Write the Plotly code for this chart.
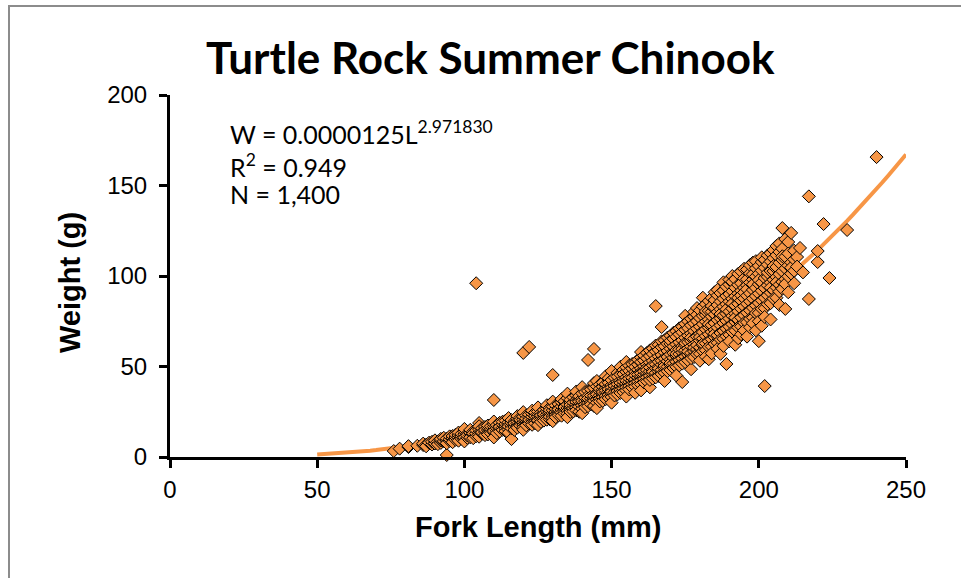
import plotly.graph_objects as go

# ---------------- data ----------------
fork_length_mm = [
    76, 78, 81, 84, 86, 87, 88, 89, 90, 91, 92, 93, 94, 95, 96, 97, 98, 99,
    100, 101, 102, 103, 104, 105, 106, 107, 108, 109, 110, 111, 112, 113, 114,
    115, 116, 117, 118, 119, 120, 121, 122, 123, 124, 125, 126, 127, 128, 129,
    130, 131, 132, 133, 134, 135, 136, 137, 138, 139, 140, 141, 142, 143, 144,
    145, 146, 147, 148, 149, 150, 151, 152, 153, 154, 155, 156, 157, 158, 159,
    160, 161, 162, 163, 164, 165, 166, 167, 168, 169, 170, 171, 172, 173, 174,
    175, 176, 177, 178, 179, 180, 181, 182, 183, 184, 185, 186, 187, 188, 189,
    190, 191, 192, 193, 194, 195, 196, 197, 198, 199, 200, 201, 202, 203, 204,
    205, 206, 207, 208, 209, 210, 211, 212, 213, 214, 215, 217, 220, 222, 224,
    230, 240,
]

weights_at_length_g = [
    [3.3], [4.6], [5.5, 6.0], [6.2], [6.6, 7.4], [6.8, 5.9], [7.9], [6.9, 8.4],
    [8.3, 7.5, 9.2], [8.6, 7.1], [7.8, 9.1, 10.0], [8.8, 10.6],
    [1.1, 9.4, 10.2, 7.6], [8.9, 9.8, 11.4], [10.4, 11.6, 8.2],
    [9.5, 11.0, 12.3], [10.9, 12.2, 9.0, 13.5], [10.1, 11.5, 12.8],
    [11.3, 12.6, 9.8, 14.2, 10.7, 15.5, 8.6], [10.6, 12.9, 11.9],
    [11.8, 13.4, 10.9, 15.0], [12.2, 14.1, 13.0, 10.4],
    [11.5, 13.0, 96.0, 14.8], [13.6, 12.4, 18.8, 15.4, 11.2, 17.0],
    [12.9, 14.4, 15.9, 13.7], [13.8, 12.1, 16.6, 14.9],
    [14.9, 13.3, 16.2, 12.5, 17.4], [14.2, 15.5, 17.0, 13.1],
    [15.1, 13.6, 31.5, 16.8, 18.2, 14.4, 10.8, 19.6],
    [14.5, 16.0, 17.6, 13.2], [15.7, 17.3, 14.1, 18.9, 16.6],
    [16.2, 15.0, 18.0, 19.5], [17.0, 15.6, 18.3, 14.3, 20.1],
    [16.4, 17.8, 19.2, 15.2, 16.9, 21.5, 13.4],
    [9.9, 17.2, 15.8, 18.9, 20.4], [17.9, 16.5, 19.6, 15.0, 18.6],
    [18.4, 17.0, 19.7, 21.3, 16.2, 22.6], [18.1, 19.9, 17.3, 21.8, 20.6],
    [19.2, 17.6, 20.8, 57.5, 22.4, 16.4, 24.8, 15.0],
    [18.8, 20.1, 22.9, 17.5, 21.2], [19.9, 18.5, 21.6, 60.8, 23.5, 20.5],
    [20.4, 19.1, 22.2, 24.0, 17.8, 25.6], [21.2, 19.8, 22.7, 18.6, 24.6],
    [21.0, 22.5, 19.6, 23.9, 25.2, 20.3, 27.4, 17.6],
    [22.1, 20.7, 24.5, 23.1, 19.4], [22.8, 21.3, 24.2, 26.0, 20.1, 23.6],
    [23.4, 21.9, 25.4, 26.8, 20.6, 28.6],
    [23.0, 24.8, 20.8, 27.2, 22.2, 25.9],
    [24.3, 22.6, 45.3, 25.9, 27.9, 21.4, 30.6, 19.8],
    [24.9, 23.2, 26.6, 28.5, 22.0], [25.6, 24.0, 27.1, 29.3, 23.0, 26.3],
    [26.0, 24.5, 28.0, 30.2, 22.8, 32.0], [26.5, 25.1, 28.2, 30.8, 24.0, 27.6],
    [27.1, 25.4, 29.0, 32.5, 23.9, 35.0, 22.0],
    [27.6, 26.0, 29.8, 31.6, 24.9, 28.7], [28.4, 26.7, 30.1, 33.0, 25.2],
    [29.0, 27.3, 34.0, 31.5, 25.8, 30.4, 36.2],
    [29.5, 27.9, 31.2, 25.0, 33.6, 30.6],
    [30.1, 28.4, 32.4, 35.2, 26.6, 31.0, 38.6, 24.2],
    [30.9, 29.0, 32.8, 35.9, 27.5],
    [31.4, 29.8, 53.6, 36.5, 33.7, 28.1, 32.3], [32.2, 30.3, 34.0, 37.4, 29.1],
    [32.6, 31.0, 59.7, 28.2, 35.1, 38.2, 33.8, 40.8],
    [33.5, 31.6, 35.4, 39.0, 30.0, 34.6, 42.0, 27.0],
    [34.1, 32.2, 36.2, 40.0, 30.7, 37.6],
    [35.0, 33.0, 37.1, 31.0, 38.8, 41.2, 35.9],
    [35.6, 33.7, 38.0, 40.3, 32.0, 36.7, 44.6],
    [36.3, 34.3, 38.9, 43.5, 32.6, 37.5, 41.0],
    [37.0, 35.0, 39.8, 33.2, 42.5, 38.4, 36.1, 47.5, 30.0],
    [37.8, 35.7, 40.5, 43.9, 34.0, 39.3],
    [38.5, 36.4, 41.6, 34.6, 46.5, 40.2, 44.4],
    [39.2, 37.1, 42.3, 45.5, 35.4, 40.9, 49.8],
    [40.0, 37.8, 43.2, 35.9, 48.0, 41.7, 45.8],
    [40.6, 38.5, 44.0, 42.1, 47.1, 36.7, 49.6, 52.5, 33.4],
    [41.5, 39.2, 45.0, 37.3, 50.5, 43.4, 47.6],
    [42.3, 40.0, 46.1, 43.8, 48.9, 38.3, 51.4],
    [43.0, 40.6, 47.0, 38.9, 52.0, 35.5, 45.2, 49.8],
    [44.0, 41.5, 48.2, 45.6, 51.0, 39.6, 53.7],
    [44.8, 42.2, 49.0, 40.1, 55.0, 47.0, 52.5, 46.2, 58.0, 36.8],
    [45.6, 43.1, 50.2, 47.4, 53.4, 41.2, 56.1],
    [46.5, 44.0, 51.0, 41.8, 57.5, 49.3, 54.6, 48.0],
    [47.4, 44.8, 52.3, 49.5, 38.5, 55.8, 42.6, 58.9],
    [48.2, 45.6, 53.1, 43.3, 60.0, 50.7, 56.9, 47.1],
    [49.1, 46.5, 54.5, 51.2, 83.4, 58.3, 44.0, 61.6],
    [50.0, 47.3, 55.6, 44.8, 62.0, 52.6, 59.2, 48.9],
    [51.0, 48.2, 56.4, 53.2, 71.8, 60.7, 45.8, 63.9],
    [51.8, 49.0, 57.8, 46.5, 64.5, 42.0, 54.4, 61.2, 50.3],
    [52.9, 49.9, 58.6, 55.3, 62.6, 47.4, 66.0],
    [53.8, 50.8, 59.9, 48.1, 62.5, 67.0, 56.7, 64.2, 51.9],
    [54.9, 51.7, 61.0, 57.4, 65.3, 49.2, 68.6],
    [55.8, 52.6, 62.2, 49.8, 69.5, 45.0, 59.1, 66.4, 57.0],
    [56.9, 53.6, 63.4, 59.5, 67.8, 50.6, 71.1],
    [57.8, 54.5, 64.5, 51.6, 41.4, 72.0, 61.3, 68.9, 59.6],
    [59.0, 55.5, 65.9, 61.8, 78.0, 70.3, 52.4, 73.6, 63.0],
    [60.0, 56.4, 67.0, 53.3, 75.0, 63.5, 71.2, 58.2],
    [61.1, 57.5, 68.2, 64.1, 48.5, 72.8, 54.6, 76.4, 66.0],
    [62.2, 58.5, 69.6, 55.2, 77.5, 65.4, 73.9, 60.3, 80.2],
    [63.3, 59.6, 70.9, 66.5, 82.3, 75.1, 56.8, 78.6, 61.8],
    [64.4, 60.6, 72.0, 57.0, 68.0, 76.8, 81.0, 53.2, 66.3],
    [65.5, 61.7, 73.4, 69.0, 88.0, 78.0, 58.5, 83.1, 62.6],
    [66.8, 62.8, 74.8, 59.0, 78.5, 70.6, 84.5, 55.4, 80.6],
    [67.8, 63.9, 76.0, 71.5, 54.0, 80.7, 86.2, 60.8, 73.4],
    [69.1, 65.0, 77.6, 61.0, 80.3, 72.9, 87.9, 57.3, 83.4],
    [70.2, 66.2, 78.8, 74.0, 91.0, 82.5, 62.5, 86.7, 68.1],
    [71.5, 67.3, 80.2, 63.1, 84.0, 75.7, 89.3, 59.8, 92.4],
    [72.7, 68.5, 81.6, 76.6, 57.0, 85.9, 64.9, 90.6, 79.0],
    [74.0, 69.7, 83.1, 65.3, 87.5, 96.5, 78.3, 61.4, 92.0],
    [75.2, 70.9, 84.4, 79.2, 51.4, 88.9, 66.7, 94.1, 81.6],
    [76.5, 72.0, 85.9, 67.5, 90.0, 80.4, 95.3, 63.9, 98.0],
    [77.9, 73.3, 87.4, 82.0, 100.0, 91.6, 69.2, 96.8, 84.8],
    [79.2, 74.6, 88.8, 69.8, 93.5, 62.0, 83.6, 98.3, 77.0],
    [80.5, 75.8, 90.3, 84.7, 95.1, 71.6, 101.2, 65.6, 87.9],
    [81.9, 77.1, 91.8, 72.2, 96.0, 86.4, 102.5, 67.8, 89.3],
    [83.2, 78.4, 93.4, 87.6, 98.7, 74.1, 104.0, 69.9, 90.9],
    [84.6, 79.7, 94.9, 74.5, 98.2, 66.5, 89.1, 103.6, 92.7],
    [86.0, 81.0, 96.4, 90.5, 101.5, 76.3, 106.0, 71.7],
    [87.5, 82.4, 98.0, 77.0, 101.0, 92.3, 107.4, 73.9, 95.4],
    [88.9, 83.7, 99.7, 93.4, 70.0, 104.3, 79.5, 108.2],
    [90.3, 85.1, 101.3, 79.6, 95.5, 105.6, 75.0, 64.0, 97.8],
    [91.8, 86.5, 103.0, 96.4, 72.5, 107.7, 81.9, 110.3],
    [93.3, 87.9, 104.6, 82.2, 39.2, 98.9, 109.0, 77.4],
    [94.8, 89.3, 106.3, 99.6, 111.4, 84.4, 101.9],
    [96.3, 90.8, 108.0, 85.0, 76.0, 102.8, 112.6, 93.6],
    [97.9, 92.2, 109.8, 102.7, 114.4, 87.5, 105.5],
    [99.4, 93.7, 111.5, 116.6, 88.0, 105.0, 96.6],
    [101.0, 95.2, 113.3, 84.0, 107.3, 118.0, 91.4],
    [102.6, 96.7, 115.1, 126.5, 108.9, 93.0, 110.9],
    [104.2, 98.2, 120.4, 81.8, 110.7, 95.6],
    [105.8, 99.8, 118.8, 112.4, 91.0],
    [107.5, 101.3, 123.8, 104.6],
    [109.2, 102.9, 96.0, 114.0],
    [110.5, 105.2], [115.5], [102.0], [144.0, 87.3],
    [107.7, 113.8], [128.7], [98.9],
    [125.4], [165.7],
]

# power trendline shown on the chart: W = a * L^b
trend_a = 0.0000125
trend_b = 2.971830
trend_length_mm = list(range(50, 251, 2))

title_text = "Turtle Rock Summer Chinook"
x_title = "Fork Length (mm)"
y_title = "Weight (g)"
eq_lines = ["W = 0.0000125L<sup>2.971830</sup>", "R<sup>2</sup> = 0.949", "N = 1,400"]
x_ticks = [0, 50, 100, 150, 200, 250]
y_ticks = [0, 50, 100, 150, 200]

# ---------------- build ----------------
xs, ys = [], []
for L, ws in zip(fork_length_mm, weights_at_length_g):
    for w in ws:
        xs.append(L)
        ys.append(w)

trend_w = [trend_a * L ** trend_b for L in trend_length_mm]

ORANGE = "#F79646"
W, H = 961, 578
L_PX, R_PX, T_PX, B_PX = 170, 906, 95, 457
pw, ph = R_PX - L_PX, B_PX - T_PX


def px(x):
    return (x - L_PX) / pw


def py(y):
    return (B_PX - y) / ph


fig = go.Figure()
fig.add_trace(go.Scatter(x=trend_length_mm, y=trend_w, mode="lines",
                         line=dict(color=ORANGE, width=4), hoverinfo="skip",
                         cliponaxis=False))
fig.add_trace(go.Scatter(x=xs, y=ys, mode="markers", cliponaxis=False,
                         marker=dict(symbol="diamond", size=10, color=ORANGE,
                                     line=dict(color="black", width=1))))

axis_common = dict(showgrid=False, zeroline=False, showline=True,
                   linecolor="black", linewidth=3, ticks="outside",
                   ticklen=8, tickwidth=3, tickcolor="black",
                   tickfont=dict(family="Liberation Sans, Arial", size=24,
                                 color="black"))

fig.update_layout(
    width=W, height=H,
    margin=dict(l=L_PX, r=W - R_PX, t=T_PX, b=H - B_PX, pad=0),
    plot_bgcolor="white", paper_bgcolor="white", showlegend=False,
    xaxis=dict(range=[0, 250], tickvals=x_ticks, ticklabelstandoff=1,
               **axis_common),
    yaxis=dict(range=[0, 200], tickvals=y_ticks, ticklabelstandoff=7,
               **axis_common),
)

ann = []
ann.append(dict(text="<b>%s</b>" % title_text, x=px(490), y=py(57),
                xref="paper", yref="paper", showarrow=False,
                xanchor="center", yanchor="middle",
                font=dict(family="Lato, Carlito, sans-serif", size=44,
                          color="black")))
ann.append(dict(text="<b>%s</b>" % x_title, x=px(538), y=py(527),
                xref="paper", yref="paper", showarrow=False,
                xanchor="center", yanchor="middle",
                font=dict(family="Liberation Sans, Arial", size=29,
                          color="black")))
ann.append(dict(text="<b>%s</b>" % y_title, x=px(70), y=py(283),
                xref="paper", yref="paper", showarrow=False, textangle=-90,
                xanchor="center", yanchor="middle",
                font=dict(family="Liberation Sans, Arial", size=29,
                          color="black")))
for t, yc in zip(eq_lines, [132, 165, 194]):
    ann.append(dict(text=t, x=px(228), y=py(yc), xref="paper", yref="paper",
                    showarrow=False, xanchor="left", yanchor="middle",
                    font=dict(family="Lato, Carlito, sans-serif", size=25,
                              color="black")))
fig.update_layout(annotations=ann)

fig.add_shape(type="rect", xref="paper", yref="paper",
              x0=px(9), x1=px(1000), y0=py(640), y1=py(6),
              line=dict(color="#8c8c8c", width=2), fillcolor="rgba(0,0,0,0)",
              layer="below")

fig.write_html("out.html", config={"displayModeBar": False},
               post_script="document.body.style.margin='0';"
                           "document.body.style.overflow='hidden';")
